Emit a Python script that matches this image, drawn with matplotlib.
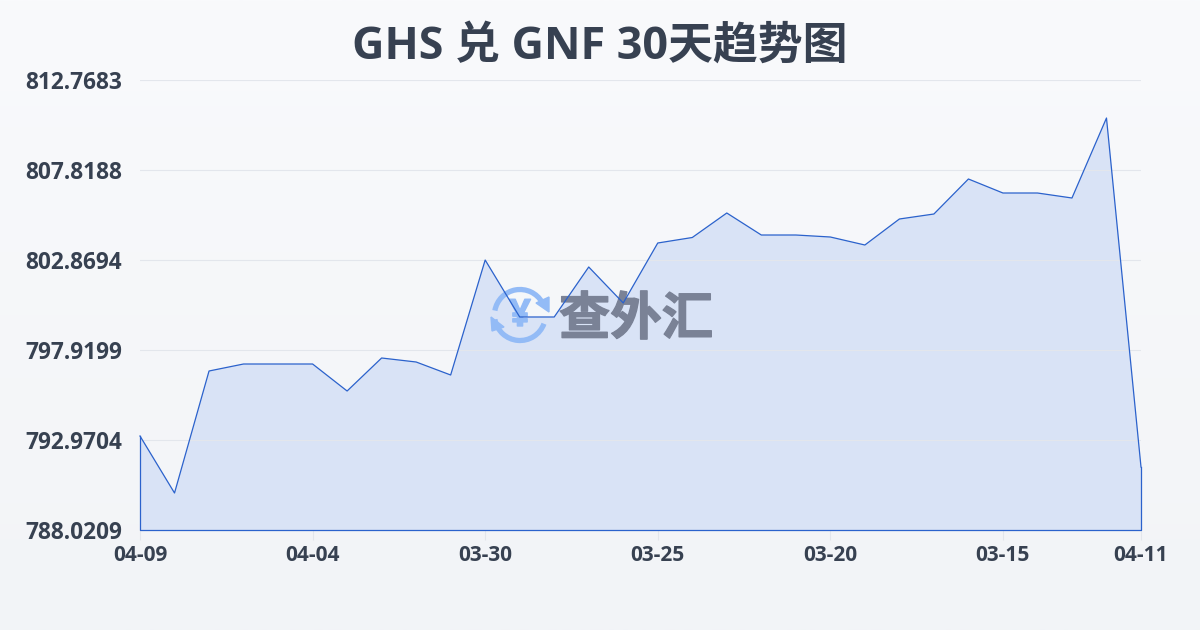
# -*- coding:utf-8 -*-
import numpy as np
import matplotlib
matplotlib.use('Agg')
import matplotlib.pyplot as plt
import matplotlib.patheffects as pe
from matplotlib.patches import Arc, Polygon
from matplotlib.transforms import Affine2D

plt.rcParams['font.family'] = ['Open Sans', 'Noto Sans CJK SC']

title = "GHS 兑 GNF 30天趋势图"

rates = [793.190, 790.055, 796.765, 797.150, 797.150, 797.150, 795.665, 797.480,
         797.260, 796.545, 802.869, 799.735, 799.735, 802.485, 800.505, 803.804,
         804.107, 805.454, 804.244, 804.244, 804.134, 803.694, 805.124, 805.399,
         807.324, 806.554, 806.554, 806.279, 810.678, 791.485]

tick_pos = [0, 5, 10, 15, 20, 25, 29]
tick_labels = ["04-09", "04-04", "03-30", "03-25", "03-20", "03-15", "04-11"]
y_ticks = [788.0209, 792.9704, 797.9199, 802.8694, 807.8188, 812.7683]

text_color = "#374151"
line_color = "#2b62cc"
fill_color = "#d9e3f6"
grid_color = "#e3e6ec"
icon_color = "#93bbf6"
mark_color = "#7a8296"

fig = plt.figure(figsize=(12, 6.3), dpi=100)

# page background, light vertical gradient
bg = fig.add_axes([0, 0, 1, 1], zorder=0)
bg.imshow(np.linspace(0, 1, 256).reshape(-1, 1), aspect='auto', extent=(0, 1, 0, 1),
          cmap=matplotlib.colors.LinearSegmentedColormap.from_list("bg", ["#f9fafc", "#f2f4f7"]))
bg.axis('off')

ax = fig.add_axes([140 / 1200, 100 / 630, 1001 / 1200, 450 / 630], zorder=1)
ax.patch.set_visible(False)

x = np.arange(len(rates))
ax.fill_between(x, rates, y_ticks[0], facecolor=fill_color, edgecolor='none', zorder=1)
ax.plot(x, rates, color=line_color, linewidth=0.9, zorder=4, clip_on=False,
        solid_joinstyle='round')
ax.plot([x[0], x[0], x[-1], x[-1]], [rates[0], y_ticks[0], y_ticks[0], rates[-1]],
        color=line_color, linewidth=0.9, zorder=4, clip_on=False)

ax.set_xlim(0, 29)
ax.set_ylim(y_ticks[0], y_ticks[-1])
ax.set_yticks(y_ticks)
ax.set_yticklabels(["%.4f" % v for v in y_ticks])
ax.set_xticks(tick_pos)
ax.set_xticklabels(tick_labels)
ax.grid(True, axis='y', color=grid_color, linewidth=0.8, zorder=2)
ax.set_axisbelow(False)
for s in ax.spines.values():
    s.set_visible(False)
ax.tick_params(axis='y', length=0, pad=13, labelsize=16.3, labelcolor=text_color)
ax.tick_params(axis='x', length=7, width=0.8, color=grid_color, pad=4, labelsize=15, labelcolor=text_color)
for t in ax.get_xticklabels() + ax.get_yticklabels():
    t.set_fontweight('bold')
for t in ax.get_yticklabels():
    t.set_verticalalignment('center_baseline')

fig.text(600 / 1200, 1 - 47 / 630, title, ha='center', va='center', fontsize=32.3,
         fontweight='bold', color=text_color)

# watermark, placed in pixel coordinates
px = Affine2D().scale(1 / 1200, -1 / 630).translate(0, 1) + fig.transFigure
ax.text(636, 319, "查外汇", transform=px, ha='center', va='center', fontsize=37,
        fontweight='black', family=['Noto Sans CJK SC'], color=mark_color, zorder=3, clip_on=False,
        path_effects=[pe.withStroke(linewidth=1, foreground=mark_color)])
ax.text(520, 316, "¥", transform=px, ha='center', va='center', fontsize=27,
        fontweight='bold', color=icon_color, zorder=3, clip_on=False,
        path_effects=[pe.withStroke(linewidth=1, foreground=icon_color)])
ax.add_patch(Arc((520, 315), 51, 51, theta1=190, theta2=330, transform=px, color=icon_color,
                 linewidth=3.8, zorder=3, clip_on=False))
ax.add_patch(Arc((520, 315), 51, 51, theta1=20, theta2=170, transform=px, color=icon_color,
                 linewidth=3.8, zorder=3, clip_on=False))
ax.add_patch(Polygon([[536, 303], [549, 297], [549, 312]], transform=px, color=icon_color,
                     zorder=3, clip_on=False))
ax.add_patch(Polygon([[491, 317], [504, 327], [492, 331]], transform=px, color=icon_color,
                     zorder=3, clip_on=False))

fig.savefig("out.png", dpi=100)
